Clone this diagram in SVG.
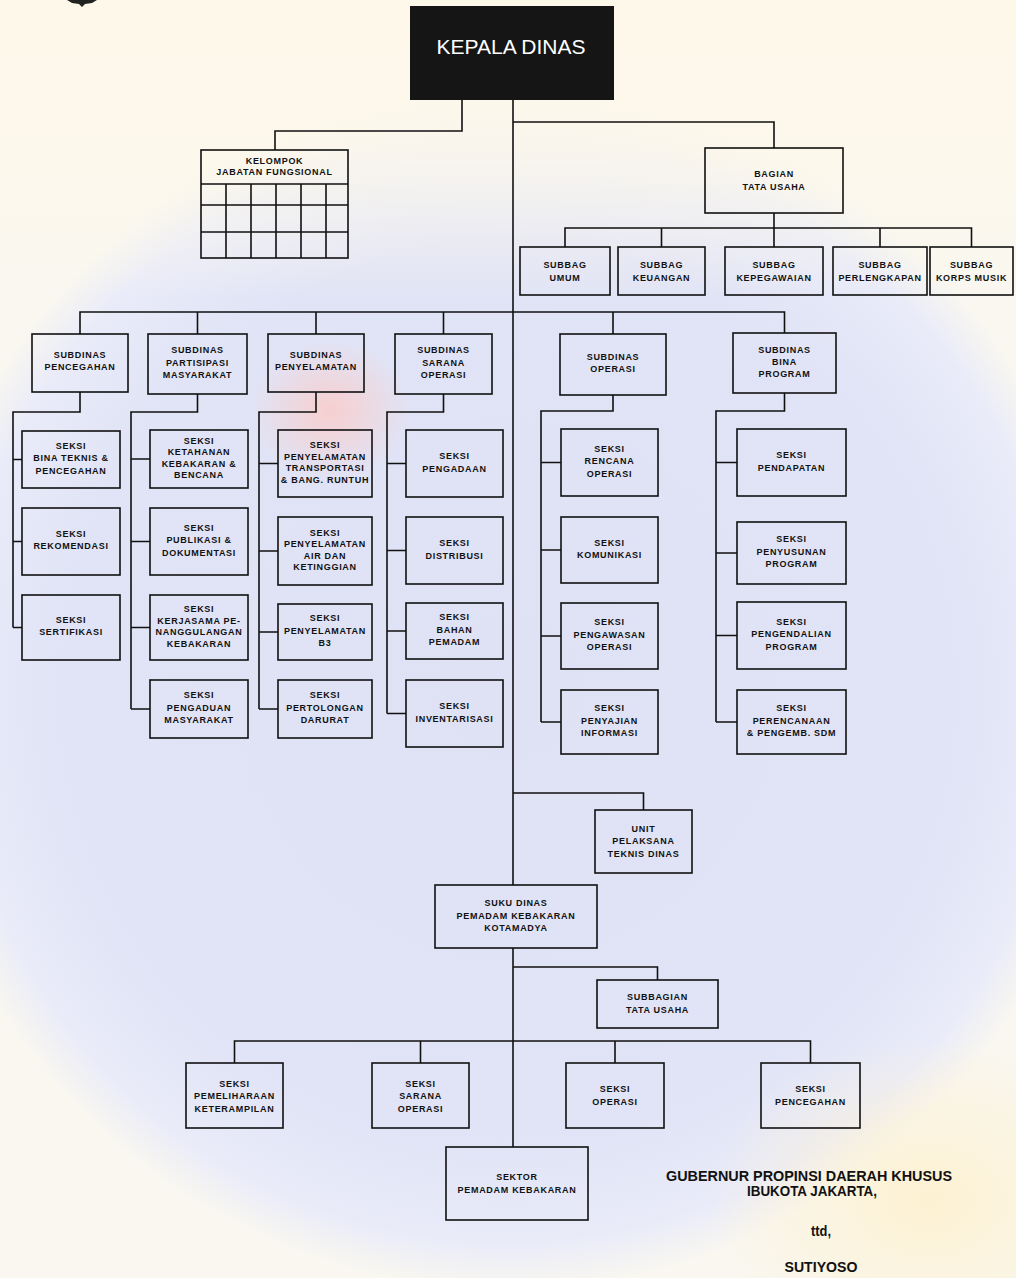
<svg xmlns="http://www.w3.org/2000/svg" width="1016" height="1278" viewBox="0 0 1016 1278">
<defs>
<radialGradient id="wm" cx="0.5" cy="0.5" r="0.5">
<stop offset="0" stop-color="#dfe2f5"/>
<stop offset="0.75" stop-color="#e1e4f6"/>
<stop offset="0.92" stop-color="#e9ebf9"/>
<stop offset="1" stop-color="#e9ebf9" stop-opacity="0"/>
</radialGradient>
<linearGradient id="topfade" x1="0" y1="0" x2="0" y2="1">
<stop offset="0" stop-color="#fdf8ea"/>
<stop offset="0.5" stop-color="#fdf8ea" stop-opacity="0.8"/>
<stop offset="1" stop-color="#fdf8ea" stop-opacity="0"/>
</linearGradient>
<radialGradient id="yel" cx="0.5" cy="0.5" r="0.5">
<stop offset="0" stop-color="#fdf1d2"/>
<stop offset="1" stop-color="#fdf1d2" stop-opacity="0"/>
</radialGradient>
<radialGradient id="pink" cx="0.5" cy="0.5" r="0.5">
<stop offset="0" stop-color="#f7cfcf"/>
<stop offset="1" stop-color="#f7cfcf" stop-opacity="0"/>
</radialGradient>
<style>
.b{fill:none;stroke:#111;stroke-width:1.6}
.t{font-family:"Liberation Sans",Arial,sans-serif;font-weight:bold;font-size:9px;letter-spacing:0.7px;text-anchor:middle;dominant-baseline:central;fill:#111}
.c{fill:none;stroke:#111;stroke-width:1.6}
.g{font-family:"Liberation Sans",Arial,sans-serif;font-weight:bold;font-size:15px;text-anchor:middle;fill:#111}
</style>
</defs>
<g id="background">
<rect width="1016" height="1278" fill="#f9f7f0"/>
<circle cx="508" cy="690" r="600" fill="url(#wm)"/>
<rect x="0" y="0" width="1016" height="300" fill="url(#topfade)"/>
<ellipse cx="930" cy="1200" rx="220" ry="160" fill="url(#yel)"/>
<ellipse cx="330" cy="410" rx="80" ry="70" fill="url(#pink)"/>
<polygon points="67,0 97,0 92,3 85,4 82,7 79,4 72,3" fill="#222"/>
</g>
<g id="connectors">
<path class="c" d="M462,100 V131 H275 V150"/>
<path class="c" d="M513,100 V885"/>
<path class="c" d="M513,122 H774 V148"/>
<path class="c" d="M774,213 V228"/>
<path class="c" d="M565,247 V228 H971.5 V247 M661.5,228 V247 M774,228 V247 M880,228 V247"/>
<path class="c" d="M80,334 V312 H784.5 V333 M197.5,312 V334 M316,312 V334 M443.5,312 V334 M613,312 V334"/>
<path class="c" d="M80,392 V412 H13 V627.5 M13,459.5 H22 M13,541.5 H22 M13,627.5 H22"/>
<path class="c" d="M197.5,394 V412 H131 V709 M131,459 H150 M131,541.5 H150 M131,627.5 H150 M131,709 H150"/>
<path class="c" d="M316,392 V412 H259 V709 M259,463.5 H278 M259,551 H278 M259,632 H278 M259,709 H278"/>
<path class="c" d="M443.5,394 V412 H387 V713.5 M387,463.5 H406 M387,550.5 H406 M387,631 H406 M387,713.5 H406"/>
<path class="c" d="M613,395 V411 H541 V722 M541,462.5 H561 M541,550 H561 M541,636 H561 M541,722 H561"/>
<path class="c" d="M784.5,393 V411 H716 V722 M716,462.5 H737 M716,553 H737 M716,635.5 H737 M716,722 H737"/>
<path class="c" d="M513,793 H643.5 V810"/>
<path class="c" d="M513,948 V1147"/>
<path class="c" d="M513,967 H657.5 V980"/>
<path class="c" d="M234.5,1063 V1041 H810.5 V1063 M420.5,1041 V1063 M615,1041 V1063"/>
</g>
<g id="kepala-dinas">
<rect x="410" y="6" width="204" height="94" fill="#151515"/>
<text x="511" y="46" font-family="Liberation Sans, Arial, sans-serif" font-size="21" fill="#ffffff" text-anchor="middle" dominant-baseline="central">KEPALA DINAS</text>
</g>
<g id="kelompok-jabatan-fungsional">
<rect class="b" x="201" y="150" width="147" height="108"/>
<path class="c" d="M201,184 H348 M201,205 H348 M201,232 H348 M226,184 V258 M251,184 V258 M276,184 V258 M301,184 V258 M326,184 V258"/>
<text class="t" x="274.5" y="160.5">KELOMPOK</text>
<text class="t" x="274.5" y="172">JABATAN FUNGSIONAL</text>
</g>
<g id="bagian-tata-usaha">
<rect class="b" x="705" y="148" width="138" height="65"/>
<text class="t" x="774" y="174">BAGIAN</text>
<text class="t" x="774" y="187">TATA USAHA</text>
</g>
<g id="subbag-umum">
<rect class="b" x="520" y="247" width="90" height="48"/>
<text class="t" x="565" y="265">SUBBAG</text>
<text class="t" x="565" y="278">UMUM</text>
</g>
<g id="subbag-keuangan">
<rect class="b" x="618" y="247" width="87" height="48"/>
<text class="t" x="661.5" y="265">SUBBAG</text>
<text class="t" x="661.5" y="278">KEUANGAN</text>
</g>
<g id="subbag-kepegawaian">
<rect class="b" x="725" y="247" width="98" height="48"/>
<text class="t" x="774" y="265">SUBBAG</text>
<text class="t" x="774" y="278">KEPEGAWAIAN</text>
</g>
<g id="subbag-perlengkapan">
<rect class="b" x="833" y="247" width="94" height="48"/>
<text class="t" x="880" y="265">SUBBAG</text>
<text class="t" x="880" y="278">PERLENGKAPAN</text>
</g>
<g id="subbag-korps-musik">
<rect class="b" x="930" y="247" width="83" height="48"/>
<text class="t" x="971.5" y="265">SUBBAG</text>
<text class="t" x="971.5" y="278">KORPS MUSIK</text>
</g>
<g id="subdinas-pencegahan">
<rect class="b" x="32" y="334" width="96" height="58"/>
<text class="t" x="80" y="355">SUBDINAS</text>
<text class="t" x="80" y="367">PENCEGAHAN</text>
</g>
<g id="subdinas-partisipasi">
<rect class="b" x="148" y="334" width="99" height="60"/>
<text class="t" x="197.5" y="350">SUBDINAS</text>
<text class="t" x="197.5" y="362.5">PARTISIPASI</text>
<text class="t" x="197.5" y="375">MASYARAKAT</text>
</g>
<g id="subdinas-penyelamatan">
<rect class="b" x="268" y="334" width="96" height="58"/>
<text class="t" x="316" y="355">SUBDINAS</text>
<text class="t" x="316" y="367">PENYELAMATAN</text>
</g>
<g id="subdinas-sarana-operasi">
<rect class="b" x="395" y="334" width="97" height="60"/>
<text class="t" x="443.5" y="350">SUBDINAS</text>
<text class="t" x="443.5" y="362.5">SARANA</text>
<text class="t" x="443.5" y="375">OPERASI</text>
</g>
<g id="subdinas-operasi">
<rect class="b" x="560" y="334" width="106" height="61"/>
<text class="t" x="613" y="357">SUBDINAS</text>
<text class="t" x="613" y="369">OPERASI</text>
</g>
<g id="subdinas-bina-program">
<rect class="b" x="733" y="333" width="103" height="60"/>
<text class="t" x="784.5" y="350">SUBDINAS</text>
<text class="t" x="784.5" y="362">BINA</text>
<text class="t" x="784.5" y="374">PROGRAM</text>
</g>
<g id="seksi-bina-teknis">
<rect class="b" x="22" y="431" width="98" height="57"/>
<text class="t" x="71" y="445.5">SEKSI</text>
<text class="t" x="71" y="458">BINA TEKNIS &amp;</text>
<text class="t" x="71" y="470.5">PENCEGAHAN</text>
</g>
<g id="seksi-rekomendasi">
<rect class="b" x="22" y="508" width="98" height="67"/>
<text class="t" x="71" y="534">SEKSI</text>
<text class="t" x="71" y="546">REKOMENDASI</text>
</g>
<g id="seksi-sertifikasi">
<rect class="b" x="22" y="595" width="98" height="65"/>
<text class="t" x="71" y="620">SEKSI</text>
<text class="t" x="71" y="632">SERTIFIKASI</text>
</g>
<g id="seksi-ketahanan">
<rect class="b" x="150" y="430" width="98" height="58"/>
<text class="t" x="199" y="440.5">SEKSI</text>
<text class="t" x="199" y="452">KETAHANAN</text>
<text class="t" x="199" y="463.5">KEBAKARAN &amp;</text>
<text class="t" x="199" y="475">BENCANA</text>
</g>
<g id="seksi-publikasi">
<rect class="b" x="150" y="508" width="98" height="67"/>
<text class="t" x="199" y="527.5">SEKSI</text>
<text class="t" x="199" y="540">PUBLIKASI &amp;</text>
<text class="t" x="199" y="552.5">DOKUMENTASI</text>
</g>
<g id="seksi-kerjasama">
<rect class="b" x="150" y="595" width="98" height="65"/>
<text class="t" x="199" y="609">SEKSI</text>
<text class="t" x="199" y="620.5">KERJASAMA PE-</text>
<text class="t" x="199" y="632" letter-spacing="0.3">NANGGULANGAN</text>
<text class="t" x="199" y="643.5">KEBAKARAN</text>
</g>
<g id="seksi-pengaduan">
<rect class="b" x="150" y="680" width="98" height="58"/>
<text class="t" x="199" y="695">SEKSI</text>
<text class="t" x="199" y="707.5">PENGADUAN</text>
<text class="t" x="199" y="720">MASYARAKAT</text>
</g>
<g id="seksi-penyelamatan-transportasi">
<rect class="b" x="278" y="430" width="94" height="67"/>
<text class="t" x="325" y="445">SEKSI</text>
<text class="t" x="325" y="456.5">PENYELAMATAN</text>
<text class="t" x="325" y="468">TRANSPORTASI</text>
<text class="t" x="325" y="479.5" letter-spacing="0.3">&amp; BANG. RUNTUH</text>
</g>
<g id="seksi-penyelamatan-air">
<rect class="b" x="278" y="517" width="94" height="68"/>
<text class="t" x="325" y="532.5">SEKSI</text>
<text class="t" x="325" y="544">PENYELAMATAN</text>
<text class="t" x="325" y="555.5">AIR DAN</text>
<text class="t" x="325" y="567">KETINGGIAN</text>
</g>
<g id="seksi-penyelamatan-b3">
<rect class="b" x="278" y="604" width="94" height="56"/>
<text class="t" x="325" y="618">SEKSI</text>
<text class="t" x="325" y="630.5">PENYELAMATAN</text>
<text class="t" x="325" y="643">B3</text>
</g>
<g id="seksi-pertolongan-darurat">
<rect class="b" x="278" y="680" width="94" height="58"/>
<text class="t" x="325" y="695">SEKSI</text>
<text class="t" x="325" y="707.5">PERTOLONGAN</text>
<text class="t" x="325" y="720">DARURAT</text>
</g>
<g id="seksi-pengadaan">
<rect class="b" x="406" y="430" width="97" height="67"/>
<text class="t" x="454.5" y="456">SEKSI</text>
<text class="t" x="454.5" y="468.5">PENGADAAN</text>
</g>
<g id="seksi-distribusi">
<rect class="b" x="406" y="517" width="97" height="67"/>
<text class="t" x="454.5" y="543">SEKSI</text>
<text class="t" x="454.5" y="555.5">DISTRIBUSI</text>
</g>
<g id="seksi-bahan-pemadam">
<rect class="b" x="406" y="603" width="97" height="56"/>
<text class="t" x="454.5" y="617">SEKSI</text>
<text class="t" x="454.5" y="629.5">BAHAN</text>
<text class="t" x="454.5" y="642">PEMADAM</text>
</g>
<g id="seksi-inventarisasi">
<rect class="b" x="406" y="680" width="97" height="67"/>
<text class="t" x="454.5" y="706">SEKSI</text>
<text class="t" x="454.5" y="718.5">INVENTARISASI</text>
</g>
<g id="seksi-rencana-operasi">
<rect class="b" x="561" y="429" width="97" height="67"/>
<text class="t" x="609.5" y="448.5">SEKSI</text>
<text class="t" x="609.5" y="461">RENCANA</text>
<text class="t" x="609.5" y="473.5">OPERASI</text>
</g>
<g id="seksi-komunikasi">
<rect class="b" x="561" y="517" width="97" height="66"/>
<text class="t" x="609.5" y="542.5">SEKSI</text>
<text class="t" x="609.5" y="555">KOMUNIKASI</text>
</g>
<g id="seksi-pengawasan-operasi">
<rect class="b" x="561" y="603" width="97" height="66"/>
<text class="t" x="609.5" y="622">SEKSI</text>
<text class="t" x="609.5" y="634.5">PENGAWASAN</text>
<text class="t" x="609.5" y="647">OPERASI</text>
</g>
<g id="seksi-penyajian-informasi">
<rect class="b" x="561" y="690" width="97" height="64"/>
<text class="t" x="609.5" y="708">SEKSI</text>
<text class="t" x="609.5" y="720.5">PENYAJIAN</text>
<text class="t" x="609.5" y="733">INFORMASI</text>
</g>
<g id="seksi-pendapatan">
<rect class="b" x="737" y="429" width="109" height="67"/>
<text class="t" x="791.5" y="455">SEKSI</text>
<text class="t" x="791.5" y="467.5">PENDAPATAN</text>
</g>
<g id="seksi-penyusunan-program">
<rect class="b" x="737" y="522" width="109" height="62"/>
<text class="t" x="791.5" y="539">SEKSI</text>
<text class="t" x="791.5" y="551.5">PENYUSUNAN</text>
<text class="t" x="791.5" y="564">PROGRAM</text>
</g>
<g id="seksi-pengendalian-program">
<rect class="b" x="737" y="602" width="109" height="67"/>
<text class="t" x="791.5" y="621.5">SEKSI</text>
<text class="t" x="791.5" y="634">PENGENDALIAN</text>
<text class="t" x="791.5" y="646.5">PROGRAM</text>
</g>
<g id="seksi-perencanaan">
<rect class="b" x="737" y="690" width="109" height="64"/>
<text class="t" x="791.5" y="708">SEKSI</text>
<text class="t" x="791.5" y="720.5">PERENCANAAN</text>
<text class="t" x="791.5" y="733">&amp; PENGEMB. SDM</text>
</g>
<g id="unit-pelaksana-teknis">
<rect class="b" x="595" y="810" width="97" height="63"/>
<text class="t" x="643.5" y="828.5">UNIT</text>
<text class="t" x="643.5" y="841">PELAKSANA</text>
<text class="t" x="643.5" y="853.5">TEKNIS DINAS</text>
</g>
<g id="suku-dinas">
<rect class="b" x="435" y="885" width="162" height="63"/>
<text class="t" x="516" y="903">SUKU DINAS</text>
<text class="t" x="516" y="915.5">PEMADAM KEBAKARAN</text>
<text class="t" x="516" y="928">KOTAMADYA</text>
</g>
<g id="subbagian-tata-usaha">
<rect class="b" x="597" y="980" width="121" height="48"/>
<text class="t" x="657.5" y="997">SUBBAGIAN</text>
<text class="t" x="657.5" y="1009.5">TATA USAHA</text>
</g>
<g id="seksi-pemeliharaan">
<rect class="b" x="186" y="1063" width="97" height="65"/>
<text class="t" x="234.5" y="1083.5">SEKSI</text>
<text class="t" x="234.5" y="1096">PEMELIHARAAN</text>
<text class="t" x="234.5" y="1108.5">KETERAMPILAN</text>
</g>
<g id="seksi-sarana-operasi">
<rect class="b" x="372" y="1063" width="97" height="65"/>
<text class="t" x="420.5" y="1083.5">SEKSI</text>
<text class="t" x="420.5" y="1096">SARANA</text>
<text class="t" x="420.5" y="1108.5">OPERASI</text>
</g>
<g id="seksi-operasi">
<rect class="b" x="566" y="1063" width="98" height="65"/>
<text class="t" x="615" y="1089">SEKSI</text>
<text class="t" x="615" y="1101.5">OPERASI</text>
</g>
<g id="seksi-pencegahan">
<rect class="b" x="761" y="1063" width="99" height="65"/>
<text class="t" x="810.5" y="1089">SEKSI</text>
<text class="t" x="810.5" y="1101.5">PENCEGAHAN</text>
</g>
<g id="sektor">
<rect class="b" x="446" y="1147" width="142" height="73"/>
<text class="t" x="517" y="1177">SEKTOR</text>
<text class="t" x="517" y="1190">PEMADAM KEBAKARAN</text>
</g>
<g id="signature">
<text class="g" x="809" y="1181" textLength="286" lengthAdjust="spacingAndGlyphs">GUBERNUR PROPINSI DAERAH KHUSUS</text>
<text class="g" x="812" y="1196" textLength="130" lengthAdjust="spacingAndGlyphs">IBUKOTA JAKARTA,</text>
<text class="g" x="821" y="1236" textLength="20" lengthAdjust="spacingAndGlyphs">ttd,</text>
<text class="g" x="821" y="1272" textLength="73" lengthAdjust="spacingAndGlyphs">SUTIYOSO</text>
</g>
</svg>
